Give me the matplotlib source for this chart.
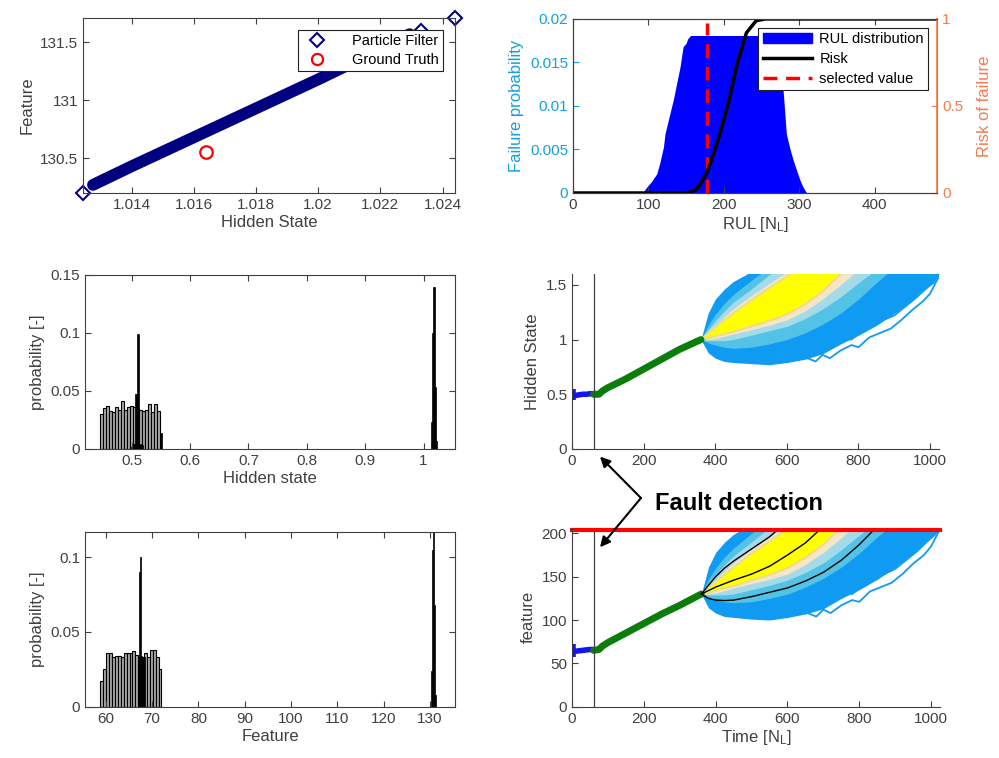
import numpy as np
import matplotlib
matplotlib.use('Agg')
import matplotlib.pyplot as plt
from matplotlib.ticker import FuncFormatter
from matplotlib.lines import Line2D
from matplotlib.patches import Patch

plt.rcParams['font.family'] = ['Liberation Sans', 'DejaVu Sans']
plt.rcParams['mathtext.fontset'] = 'custom'
plt.rcParams['mathtext.rm'] = 'Liberation Sans'
plt.rcParams['mathtext.it'] = 'Liberation Sans:italic'

# ---- panel 1: particle cloud, hidden state vs feature
band_x = [1.01276, 1.0140, 1.0160, 1.0180, 1.0200, 1.0220, 1.02294]
band_y = [130.27, 130.43, 130.68, 130.93, 131.18, 131.44, 131.57]
outlier_x = [1.01244, 1.0244, 1.0233]
outlier_y = [130.20, 131.71, 131.60]
truth_x, truth_y = 1.0164, 130.55

# ---- panel 2: RUL distribution and risk
rul_x = [92, 98, 104, 111, 115, 120, 122, 133, 142, 146, 150, 152, 156,
         270, 276, 279, 283, 288, 292, 297, 301, 305, 310]
rul_p = [0, 0.0007, 0.0013, 0.0022, 0.0034, 0.0053, 0.0068, 0.0107, 0.0145,
         0.0168, 0.0172, 0.0177, 0.0181, 0.0181, 0.0145, 0.0115, 0.0068,
         0.0050, 0.0038, 0.0025, 0.0015, 0.0007, 0]
risk_x = [0, 150, 162, 168, 178, 186, 195, 207, 217, 230, 243, 255, 483]
risk_y = [0, 0, 0.015, 0.044, 0.12, 0.22, 0.34, 0.53, 0.73, 0.92, 0.99, 1.0, 1.0]
selected_rul = 178
selected_top = 0.0195

# ---- panel 3: hidden state histogram
hs_prior_p = [0.030, 0.0356, 0.037, 0.0325, 0.032, 0.036, 0.0336, 0.0414,
              0.034, 0.0365, 0.037, 0.036, 0.035, 0.034, 0.033, 0.034,
              0.039, 0.032, 0.039, 0.033]
hs_prior_range = (0.4465, 0.5481)
hs_post_x = [0.5008, 0.5042, 0.5076, 0.5110, 0.5144, 0.5178, 0.5495]
hs_post_p = [0.002, 0.004, 0.047, 0.099, 0.004, 0.003, 0.014]
hs_late_x = [1.0131, 1.0155, 1.0177, 1.0196, 1.0220]
hs_late_p = [0.023, 0.100, 0.140, 0.053, 0.007]

# ---- panel 6: feature histogram
ft_prior_p = [0.017, 0.025, 0.036, 0.036, 0.0335, 0.034, 0.034, 0.033, 0.036,
              0.036, 0.0357, 0.037, 0.0346, 0.033, 0.033, 0.036, 0.0335,
              0.038, 0.038, 0.0335, 0.025]
ft_prior_range = (58.84, 72.0)
ft_post_x = [66.97, 67.23, 67.49, 67.75, 68.01, 68.27]
ft_post_p = [0.031, 0.090, 0.100, 0.034, 0.033, 0.033]
ft_late_x = [130.25, 130.50, 130.75, 131.00, 131.25]
ft_late_p = [0.024, 0.105, 0.125, 0.068, 0.008]

# ---- panels 4/5: trajectories
fault_t = 60
blue_t = [0, 3, 10, 20, 30, 40, 50, 60]
hs_blue = [0.50, 0.49, 0.49, 0.495, 0.50, 0.50, 0.505, 0.505]
hs_blue_spread = [0.45, 0.55]
ft_blue = [65, 64, 64, 64.5, 65, 65.5, 66, 66]
ft_blue_spread = [57, 72.5]
green_t = [60, 75, 85, 100, 150, 200, 250, 300, 360]
hs_green = [0.50, 0.50, 0.53, 0.56, 0.64, 0.73, 0.82, 0.91, 1.00]
ft_green = [65, 66, 70, 74, 85, 96, 107, 117, 130]

t_fan = [360, 380, 400, 425, 450, 500, 550, 600, 650, 700, 750, 800, 850, 900, 950, 1000, 1030]
hs_u0 = [1.00, 1.24, 1.37, 1.46, 1.53, 1.62, 1.70, 1.76, 1.80, 1.85, 1.90, 1.95, 2.00, 2.00, 2.00, 2.00, 2.00]
hs_u1 = [1.00, 1.13, 1.23, 1.33, 1.41, 1.54, 1.66, 1.75, 1.80, 1.85, 1.90, 1.95, 2.00, 2.00, 2.00, 2.00, 2.00]
hs_u2 = [1.00, 1.09, 1.17, 1.26, 1.34, 1.46, 1.59, 1.70, 1.78, 1.85, 1.90, 1.95, 2.00, 2.00, 2.00, 2.00, 2.00]
hs_u3 = [1.00, 1.07, 1.13, 1.21, 1.28, 1.40, 1.51, 1.62, 1.72, 1.80, 1.88, 1.95, 2.00, 2.00, 2.00, 2.00, 2.00]
hs_u4 = [1.00, 1.06, 1.11, 1.18, 1.24, 1.36, 1.47, 1.58, 1.68, 1.76, 1.85, 1.93, 2.00, 2.00, 2.00, 2.00, 2.00]
hs_l4 = [1.00, 1.01, 1.03, 1.05, 1.07, 1.12, 1.17, 1.23, 1.32, 1.44, 1.60, 1.72, 1.82, 1.92, 2.00, 2.00, 2.00]
hs_l3 = [1.00, 1.00, 1.01, 1.03, 1.05, 1.09, 1.13, 1.18, 1.26, 1.37, 1.50, 1.64, 1.76, 1.86, 1.94, 2.00, 2.00]
hs_l2 = [1.00, 0.99, 0.99, 0.99, 1.00, 1.04, 1.08, 1.12, 1.19, 1.28, 1.39, 1.52, 1.64, 1.76, 1.86, 1.94, 2.00]
hs_l1 = [1.00, 0.97, 0.95, 0.93, 0.92, 0.93, 0.96, 1.00, 1.06, 1.14, 1.24, 1.37, 1.52, 1.66, 1.76, 1.86, 1.92]
hs_l0 = [1.00, 0.88, 0.83, 0.80, 0.79, 0.78, 0.77, 0.79, 0.82, 0.87, 0.96, 1.04, 1.13, 1.24, 1.36, 1.50, 1.62]

ft_u0 = [130, 161, 178, 190, 199, 211, 221, 229, 234, 240, 247, 253, 260, 260, 260, 260, 260]
ft_u1 = [130, 147, 160, 173, 183, 200, 216, 228, 234, 240, 247, 253, 260, 260, 260, 260, 260]
ft_u2 = [130, 142, 152, 164, 174, 190, 207, 221, 231, 240, 247, 253, 260, 260, 260, 260, 260]
ft_u3 = [130, 139, 147, 157, 166, 182, 196, 210, 224, 234, 244, 253, 260, 260, 260, 260, 260]
ft_u4 = [130, 138, 144, 153, 161, 177, 191, 205, 218, 229, 240, 251, 260, 260, 260, 260, 260]
ft_l4 = [130, 131, 134, 137, 139, 146, 152, 160, 172, 187, 208, 224, 238, 250, 260, 260, 260]
ft_l3 = [130, 130, 131, 134, 137, 142, 147, 153, 164, 178, 195, 213, 229, 242, 255, 260, 260]
ft_l2 = [130, 129, 129, 129, 130, 135, 140, 146, 155, 166, 181, 198, 213, 228, 242, 255, 260]
ft_l1 = [130, 126, 124, 121, 120, 121, 125, 130, 138, 148, 161, 177, 196, 212, 227, 240, 250]
ft_l0 = [130, 114, 108, 104, 103, 101, 100, 103, 107, 113, 125, 135, 147, 161, 177, 195, 210]
ft_q_hi = [130, 140, 150, 160, 168, 182, 196, 214, 230, 245, 260, 270, 280, 290, 300, 310, 320]
ft_q_mid = [130, 134, 138, 142, 146, 153, 162, 175, 189, 208, 225, 240, 255, 270, 285, 300, 310]
ft_q_lo = [130, 125, 123, 122.5, 123, 127, 132, 137, 145, 155, 169, 187, 208, 230, 250, 270, 280]

# a few stray trajectories below the dense part of the fan
stray1_t = [650, 680, 700, 720, 750, 780, 800, 830, 860, 890, 920, 950, 980, 1000, 1025]
hs_stray1 = [0.84, 0.80, 0.86, 0.83, 0.90, 0.95, 0.93, 1.02, 1.06, 1.10, 1.18, 1.27, 1.35, 1.42, 1.58]
ft_stray1 = [109, 104, 112, 108, 117, 123, 121, 133, 138, 143, 153, 165, 175, 185, 205]
stray2_t = [750, 780, 810, 840, 870, 900, 930, 960, 990, 1010, 1025]
hs_stray2 = [1.02, 1.00, 1.08, 1.12, 1.18, 1.22, 1.30, 1.38, 1.47, 1.52, 1.60]
ft_stray2 = [133, 130, 140, 146, 153, 159, 169, 179, 191, 198, 207]
threshold = 204

GRAY = '#404040'
BLUE_AX = '#14a0dc'
ORANGE_AX = '#f47c4c'
gfmt = FuncFormatter(lambda v, p: '%g' % v)


def style(ax, box=True):
    ax.tick_params(direction='in', length=4, labelsize=11, colors=GRAY,
                   top=box, right=box)
    for name, s in ax.spines.items():
        s.set_color(GRAY)
        s.set_linewidth(0.8)
        if not box and name in ('top', 'right'):
            s.set_visible(False)
    ax.xaxis.set_major_formatter(gfmt)
    ax.yaxis.set_major_formatter(gfmt)


fig = plt.figure(figsize=(9.99, 7.58), dpi=100)

# panel 1
ax1 = fig.add_axes([0.0831, 0.7454, 0.3724, 0.2309])
ax1.plot(band_x, band_y, color='#000080', lw=8.5, solid_capstyle='round')
ax1.plot(outlier_x, outlier_y, ls='none', marker='D', ms=7, mfc='none',
         mec='#000080', mew=1.5, clip_on=False)
ax1.plot(truth_x, truth_y, ls='none', marker='o', ms=9, mfc='none',
         mec='red', mew=1.6)
ax1.set_xlim(1.01244, 1.0244)
ax1.set_ylim(130.2, 131.71)
ax1.set_xticks([1.014, 1.016, 1.018, 1.02, 1.022, 1.024])
ax1.set_yticks([130.5, 131, 131.5])
style(ax1)
ax1.set_xlabel('Hidden State', fontsize=12, color=GRAY, labelpad=2)
ax1.set_ylabel('Feature', fontsize=12, color=GRAY)
h1 = [Line2D([], [], ls='none', marker='D', ms=7, mfc='none', mec='#000080', mew=1.5),
      Line2D([], [], ls='none', marker='o', ms=8, mfc='none', mec='red', mew=1.6)]
leg1 = ax1.legend(h1, ['Particle Filter', 'Ground Truth'], loc='upper right',
                  fontsize=10.5, fancybox=False, framealpha=1, edgecolor='#202020',
                  borderaxespad=0.8, handletextpad=1.4, borderpad=0.3, labelspacing=0.35)
leg1.get_frame().set_linewidth(0.8)

# panel 2
ax2 = fig.add_axes([0.5736, 0.7454, 0.3644, 0.2296])
ax2.fill_between(rul_x, rul_p, color='#0000ff', lw=0)
ax2.plot([selected_rul, selected_rul], [0, selected_top], color='red', ls='--',
         lw=2.5, dashes=(4, 2.5))
ax2.set_xlim(0, 483)
ax2.set_ylim(0, 0.02)
ax2.set_xticks([0, 100, 200, 300, 400])
ax2.set_yticks([0, 0.005, 0.01, 0.015, 0.02])
style(ax2)
ax2.tick_params(right=False)
ax2.tick_params(axis='y', colors=BLUE_AX)
ax2.set_xlabel('RUL [N$_{\\mathrm{L}}$]', fontsize=12, color=GRAY, labelpad=2)
ax2.set_ylabel('Failure probability', fontsize=12, color=BLUE_AX)
ax2r = ax2.twinx()
ax2r.plot(risk_x, risk_y, color='k', lw=2.5)
ax2r.set_ylim(0, 1)
ax2r.set_yticks([0, 0.5, 1])
ax2r.yaxis.set_major_formatter(gfmt)
ax2r.tick_params(direction='in', length=4, labelsize=11, colors=ORANGE_AX)
for name, s in ax2r.spines.items():
    s.set_color(GRAY)
    s.set_linewidth(0.8)
ax2r.spines['right'].set_color(ORANGE_AX)
ax2r.spines['right'].set_linewidth(1.2)
ax2r.set_ylabel('Risk of failure', fontsize=12, color=ORANGE_AX, labelpad=10)
h2 = [Patch(color='#0000ff'), Line2D([], [], color='k', lw=2.5),
      Line2D([], [], color='red', ls='--', lw=2.5, dashes=(4, 2.5))]
leg2 = ax2r.legend(h2, ['RUL distribution', 'Risk', 'selected value'],
                   loc='upper right', fontsize=10.5, fancybox=False, framealpha=1,
                   edgecolor='#202020', borderaxespad=0.6, handlelength=3.4,
                   borderpad=0.3, labelspacing=0.4, handletextpad=0.5)
leg2.get_frame().set_linewidth(0.8)

# panel 3
ax3 = fig.add_axes([0.0851, 0.4077, 0.3704, 0.2296])
edges = np.linspace(hs_prior_range[0], hs_prior_range[1], len(hs_prior_p) + 1)
ax3.bar(edges[:-1], hs_prior_p, width=edges[1] - edges[0], align='edge',
        color='#a8a8a8', edgecolor='k', lw=0.8)
ax3.bar(hs_post_x, hs_post_p, width=0.0034, color='k', edgecolor='k', lw=0.5)
ax3.bar(hs_late_x, hs_late_p, width=0.0022, color='k', edgecolor='k', lw=0.5)
ax3.set_xlim(0.42, 1.054)
ax3.set_ylim(0, 0.15)
ax3.set_xticks([0.5, 0.6, 0.7, 0.8, 0.9, 1])
ax3.set_yticks([0, 0.05, 0.1, 0.15])
style(ax3)
ax3.set_xlabel('Hidden state', fontsize=12, color=GRAY, labelpad=2)
ax3.set_ylabel('probability [-]', fontsize=12, color=GRAY)

# panel 6
ax6 = fig.add_axes([0.0851, 0.0673, 0.3704, 0.2309])
edges = np.linspace(ft_prior_range[0], ft_prior_range[1], len(ft_prior_p) + 1)
ax6.bar(edges[:-1], ft_prior_p, width=edges[1] - edges[0], align='edge',
        color='#a8a8a8', edgecolor='k', lw=0.8)
ax6.bar(ft_post_x, ft_post_p, width=0.26, color='k', edgecolor='k', lw=0.5)
ax6.bar(ft_late_x, ft_late_p, width=0.25, color='k', edgecolor='k', lw=0.5)
ax6.set_xlim(55.5, 135.4)
ax6.set_ylim(0, 0.1167)
ax6.set_xticks(list(range(60, 131, 10)))
ax6.set_yticks([0, 0.05, 0.1])
style(ax6)
ax6.set_xlabel('Feature', fontsize=12, color=GRAY, labelpad=2)
ax6.set_ylabel('probability [-]', fontsize=12, color=GRAY)

# panels 4 and 5
fan_colors = ['#0f9bf2', '#52c3e6', '#a5dbe9', '#f6e5c8', '#ffff00']


def draw_fan(ax, lows, highs, strays, blue, spread, green):
    for (lo, hi), c in zip(zip(lows, highs), fan_colors):
        ax.fill_between(t_fan, lo, hi, color=c, lw=0)
        if c == '#0f9bf2':
            for st, sy in strays:
                ax.plot(st, sy, color=c, lw=1.3)
    ax.fill_between(t_fan, lows[-1], highs[-1], facecolor='none',
                    edgecolor='#ecdc8c', lw=1.5)
    ax.plot(blue_t, blue, color='#1414ee', lw=4, solid_capstyle='butt')
    ax.plot([blue_t[0] + 2, blue_t[0] + 2], spread, color='#1414ee', lw=4,
            solid_capstyle='butt')
    ax.plot(green_t, green, color='#0b7d0b', lw=5, solid_capstyle='round')
    ax.axvline(fault_t, color=GRAY, lw=0.9)


ax4 = fig.add_axes([0.5726, 0.4077, 0.3674, 0.2309])
draw_fan(ax4, [hs_l0, hs_l1, hs_l2, hs_l3, hs_l4], [hs_u0, hs_u1, hs_u2, hs_u3, hs_u4],
         [(stray1_t, hs_stray1), (stray2_t, hs_stray2)], hs_blue, hs_blue_spread, hs_green)
ax4.set_xlim(0, 1025)
ax4.set_ylim(0, 1.6)
ax4.set_xticks([0, 200, 400, 600, 800, 1000])
ax4.set_yticks([0, 0.5, 1, 1.5])
style(ax4, box=False)
ax4.set_ylabel('Hidden State', fontsize=12, color=GRAY)

ax5 = fig.add_axes([0.5726, 0.0677, 0.3684, 0.2355])
draw_fan(ax5, [ft_l0, ft_l1, ft_l2, ft_l3, ft_l4], [ft_u0, ft_u1, ft_u2, ft_u3, ft_u4],
         [(stray1_t, ft_stray1), (stray2_t, ft_stray2)], ft_blue, ft_blue_spread, ft_green)
for q in (ft_q_hi, ft_q_mid, ft_q_lo):
    ax5.plot(t_fan, q, color='k', lw=1.0)
ax5.axhline(threshold, color='red', lw=3, clip_on=False)
ax5.set_xlim(0, 1025)
ax5.set_ylim(0, 206)
ax5.set_xticks([0, 200, 400, 600, 800, 1000])
ax5.set_yticks([0, 50, 100, 150, 200])
style(ax5, box=False)
ax5.set_ylabel('feature', fontsize=12, color=GRAY)
ax5.set_xlabel('Time [N$_{\\mathrm{L}}$]', fontsize=12, color=GRAY, labelpad=2)

# fault detection callout
fig.text(0.6557, 0.3364, 'Fault detection', fontsize=17, fontweight='bold',
         va='center', ha='left')
arrow = dict(arrowstyle='-|>', color='k', lw=1.5, mutation_scale=15, shrinkA=0, shrinkB=0)
ax4.annotate('', xy=(78, -0.07), xycoords='data', xytext=(0.6416, 0.343),
             textcoords='figure fraction', arrowprops=arrow, annotation_clip=False)
ax5.annotate('', xy=(78, 184), xycoords='data', xytext=(0.6416, 0.343),
             textcoords='figure fraction', arrowprops=arrow, annotation_clip=False)

fig.savefig('out.png', dpi=100)
